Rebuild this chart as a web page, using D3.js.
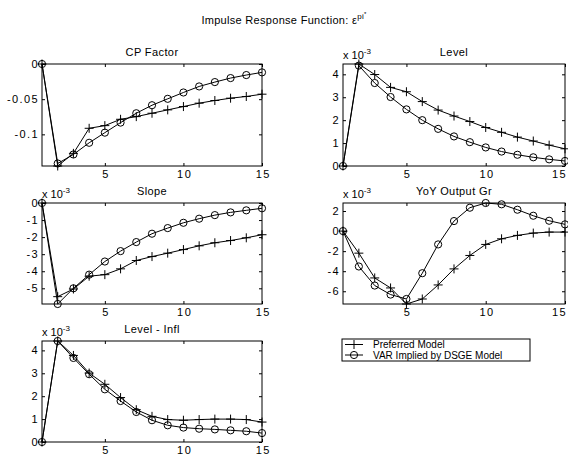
<!DOCTYPE html>
<html><head><meta charset="utf-8">
<script src="https://cdn.jsdelivr.net/npm/d3@7"></script>
<style>
body{margin:0;background:#fff;}
text{font-family:"Liberation Sans",Arial,sans-serif;font-size:11px;fill:#000;}
</style></head><body>
<svg id="c" width="568" height="456"></svg>
<script>
const periods = [1,2,3,4,5,6,7,8,9,10,11,12,13,14,15];
const xTicks = [5,10,15];

const cpPref  = [0,-0.145,-0.127,-0.0914,-0.0876,-0.0786,-0.0748,-0.0700,-0.0652,-0.0605,-0.0557,-0.0519,-0.0486,-0.0462,-0.0429];
const cpVar   = [0,-0.1414,-0.1286,-0.112,-0.0976,-0.0833,-0.0700,-0.0586,-0.0495,-0.0405,-0.0319,-0.0257,-0.0200,-0.0157,-0.0119];

const levPref = [0,4.45,3.99,3.43,3.24,2.81,2.44,2.18,1.94,1.68,1.47,1.26,1.09,0.91,0.75];
const levVar  = [0,4.38,3.62,3.01,2.47,2.00,1.62,1.29,1.04,0.81,0.63,0.49,0.38,0.29,0.22];

const slpPref = [0,-5.49,-5.04,-4.29,-4.20,-3.86,-3.37,-3.14,-2.94,-2.73,-2.51,-2.33,-2.20,-2.04,-1.86];
const slpVar  = [0,-5.92,-5.00,-4.20,-3.43,-2.82,-2.29,-1.80,-1.47,-1.16,-0.92,-0.71,-0.55,-0.43,-0.31];

const yoyPref = [0,-2.20,-4.67,-5.67,-7.27,-6.77,-5.37,-3.77,-2.43,-1.33,-0.77,-0.43,-0.20,-0.10,-0.10];
const yoyVar  = [0,-3.53,-5.43,-6.33,-6.77,-4.20,-1.33,1.00,2.33,2.80,2.67,2.13,1.53,1.03,0.67];

const liPref  = [0,4.41,3.78,3.01,2.52,1.94,1.41,1.12,0.98,0.95,0.98,1.00,1.00,0.98,0.87];
const liVar   = [0,4.41,3.67,2.96,2.30,1.79,1.31,0.95,0.73,0.63,0.58,0.55,0.51,0.47,0.39];

const titles = ["CP Factor","Level","Slope","YoY Output Gr","Level - Infl"];
const cpTicks = [-0.1,-0.05,0];
const levTicks = [0,1,2,3,4];
const slpTicks = [-5,-4,-3,-2,-1,0];
const yoyTicks = [-6,-4,-2,0,2];
const liTicks = [0,1,2,3,4];
const legendLabels = ["Preferred Model","VAR Implied by DSGE Model"];

const svg = d3.select("#c");

// main title
const mt = svg.append("text").attr("x",284).attr("y",24).attr("text-anchor","middle").style("letter-spacing","0.3px");
mt.append("tspan").text("Impulse Response Function: \u03b5");
mt.append("tspan").attr("dy",-5).style("font-size","8px").text("pi");
mt.append("tspan").attr("dy",-3).style("font-size","6px").text("*");

const panels = [
  {t:titles[0], p:cpPref, v:cpVar, ticks:cpTicks, fmt:d=>d===0?"0":String(d), exp:false, x:42, y:64, w:220, h:102, edge:false},
  {t:titles[1], p:levPref, v:levVar, ticks:levTicks, fmt:d=>String(d), exp:true, x:343, y:64, w:222, h:102, edge:true},
  {t:titles[2], p:slpPref, v:slpVar, ticks:slpTicks, fmt:d=>String(d), exp:true, x:42, y:203, w:220, h:101, edge:false},
  {t:titles[3], p:yoyPref, v:yoyVar, ticks:yoyTicks, fmt:d=>String(d), exp:true, x:343, y:203, w:222, h:101, edge:true},
  {t:titles[4], p:liPref, v:liVar, ticks:liTicks, fmt:d=>String(d), exp:true, x:42, y:341, w:220, h:101, edge:false}
];

function plus(g, x, y, s){
  g.append("path").attr("d",`M${x-s},${y}H${x+s}M${x},${y-s}V${y+s}`).attr("stroke","#000").attr("stroke-width",1).attr("fill","none");
}

panels.forEach(P=>{
  const g = svg.append("g").attr("transform",`translate(${P.x},${P.y})`);
  const x = d3.scaleLinear().domain(d3.extent(periods)).range([0,P.w]);
  const ext = d3.extent(P.p.concat(P.v));
  const y = d3.scaleLinear().domain(ext).range([P.h,0]);

  const ax = g.append("g").attr("transform",`translate(0,${P.h})`)
    .call(d3.axisBottom(x).tickValues(xTicks).tickSize(-3).tickPadding(4).tickFormat(d3.format("d")));
  const axT = g.append("g").call(d3.axisTop(x).tickValues(xTicks).tickSize(-3).tickFormat(""));
  const ay = g.append("g").call(d3.axisLeft(y).tickValues(P.ticks).tickSize(-3).tickPadding(3).tickFormat(P.fmt));
  const ayR = g.append("g").attr("transform",`translate(${P.w},0)`).call(d3.axisRight(y).tickValues(P.ticks).tickSize(-3).tickFormat(""));
  [ax,axT,ay,ayR].forEach(a=>{
    a.select(".domain").remove();
    a.selectAll("line").attr("stroke","#000");
    a.selectAll("text").style("font-family",'"Liberation Sans",Arial,sans-serif').style("font-size","11px").style("letter-spacing","1.4px").attr("fill","#000");
  });
  ax.selectAll("text").attr("dx","0.7px");
  if(P.edge) ax.selectAll(".tick").filter(d=>d===15).select("text").attr("dx","-6px");
  g.append("rect").attr("width",P.w).attr("height",P.h).attr("fill","none").attr("stroke","#000").attr("stroke-width",1);

  const line = d3.line().x((d,i)=>x(periods[i])).y(d=>y(d));
  g.append("path").datum(P.p).attr("d",line).attr("fill","none").attr("stroke","#000").attr("stroke-width",1);
  g.append("path").datum(P.v).attr("d",line).attr("fill","none").attr("stroke","#000").attr("stroke-width",1);
  P.p.forEach((d,i)=>plus(g, x(periods[i]), y(d), 4.5));
  P.v.forEach((d,i)=>g.append("circle").attr("cx",x(periods[i])).attr("cy",y(d)).attr("r",3.6).attr("fill","none").attr("stroke","#000").attr("stroke-width",1));

  g.append("text").attr("x",P.w/2).attr("y",-8).attr("text-anchor","middle").style("letter-spacing","0.4px").text(P.t);
  if(P.exp){
    const e = g.append("text").attr("x",0).attr("y",-5);
    e.append("tspan").text("x 10");
    e.append("tspan").attr("dy",-5).style("font-size","8px").text("-3");
  }
});

// legend
const lg = svg.append("g").attr("transform","translate(342,339)");
lg.append("rect").attr("width",188).attr("height",22).attr("fill","#fff").attr("stroke","#000").attr("stroke-width",1);
legendLabels.forEach((l,i)=>{
  const yy = 5.5 + i*10.5;
  lg.append("line").attr("x1",3).attr("x2",21).attr("y1",yy).attr("y2",yy).attr("stroke","#000");
  if(i===0) plus(lg,12,yy,4.5);
  else lg.append("circle").attr("cx",12).attr("cy",yy).attr("r",3.6).attr("fill","none").attr("stroke","#000");
  lg.append("text").attr("x",31).attr("y",yy+3.5).style("font-size","10px").text(l);
});
</script></body></html>
